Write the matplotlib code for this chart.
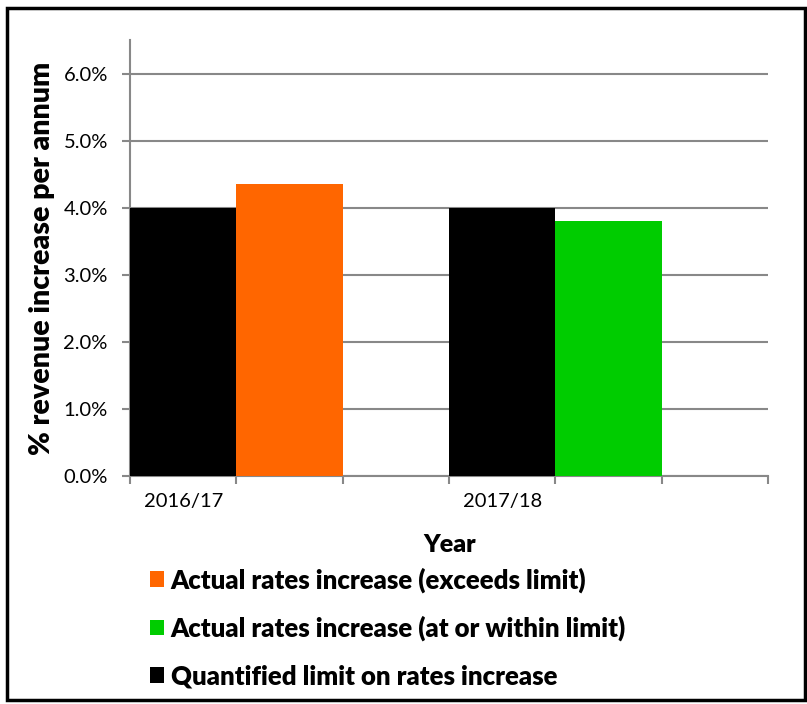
import matplotlib
matplotlib.use("Agg")
import matplotlib.pyplot as plt
from matplotlib.patches import Rectangle
from matplotlib.ticker import FuncFormatter

years = ["2016/17", "2017/18"]
limit = [4.0, 4.0]
actual_exceeds = [4.35, None]
actual_within = [None, 3.8]
labels = ["Actual rates increase (exceeds limit)",
          "Actual rates increase (at or within limit)",
          "Quantified limit on rates increase"]
colors = {"exceeds": "#FF6600", "within": "#00CC00", "limit": "#000000"}

plt.rcParams['font.family'] = ['Lato', 'DejaVu Sans']

fig = plt.figure(figsize=(8.07, 7.04), dpi=100)
ax = fig.add_axes([130/807, 1-476/704, (768-130)/807, (476-40)/704])

# category slots: each year occupies 3 slots (limit, actual, gap)
lim_x = [0.5 + 3*i for i in range(len(years))]
b_lim = ax.bar(lim_x, limit, width=1.0, color=colors["limit"], zorder=3)
ex_x = [x + 1 for x, v in zip(lim_x, actual_exceeds) if v is not None]
ex_v = [v for v in actual_exceeds if v is not None]
b_ex = ax.bar(ex_x, ex_v, width=1.0, color=colors["exceeds"], zorder=3)
wi_x = [x + 1 for x, v in zip(lim_x, actual_within) if v is not None]
wi_v = [v for v in actual_within if v is not None]
b_wi = ax.bar(wi_x, wi_v, width=1.0, color=colors["within"], zorder=3)

ax.set_xlim(0, 6)
ax.set_ylim(0, 6.5)
ax.set_yticks([0, 1, 2, 3, 4, 5, 6])
ax.yaxis.set_major_formatter(FuncFormatter(lambda v, p: f"{v:.1f}%"))
ax.grid(axis='y', color='#888888', linewidth=1.5, zorder=0)
ax.set_xticks(range(7))
ax.set_xticklabels([])
ax.set_xticks(lim_x, minor=True)
ax.set_xticklabels(years, minor=True, fontsize=14.5)
ax.tick_params(axis='x', which='minor', length=0, pad=12)
ax.tick_params(axis='x', which='major', length=6, width=1.5, color='#888888', direction='out')
ax.tick_params(axis='y', length=6, width=1.5, color='#888888', labelsize=14.5, pad=10)
for s in ['top', 'right']:
    ax.spines[s].set_visible(False)
for s in ['left', 'bottom']:
    ax.spines[s].set_color('#888888')
    ax.spines[s].set_linewidth(1.5)

ax.set_ylabel("% revenue increase per annum", fontsize=20.5, fontweight='heavy', labelpad=6)
fig.text(450/807, 1-545/704, "Year", fontsize=18, fontweight='heavy', ha='center', va='center')

leg = fig.legend([b_ex, b_wi, b_lim], labels, loc='upper left',
                 bbox_to_anchor=(150/807, 1-567/704), frameon=False,
                 prop={'size': 18.5, 'weight': 'heavy'},
                 handlelength=0.55, handleheight=0.55, handletextpad=0.25,
                 labelspacing=0.9, borderpad=0, borderaxespad=0)

fig.patches.append(Rectangle((7/807, 4/704), 798/807, 1-12/704, transform=fig.transFigure,
                             fill=False, edgecolor='black', linewidth=2.5))

fig.savefig("out.png", dpi=100)
